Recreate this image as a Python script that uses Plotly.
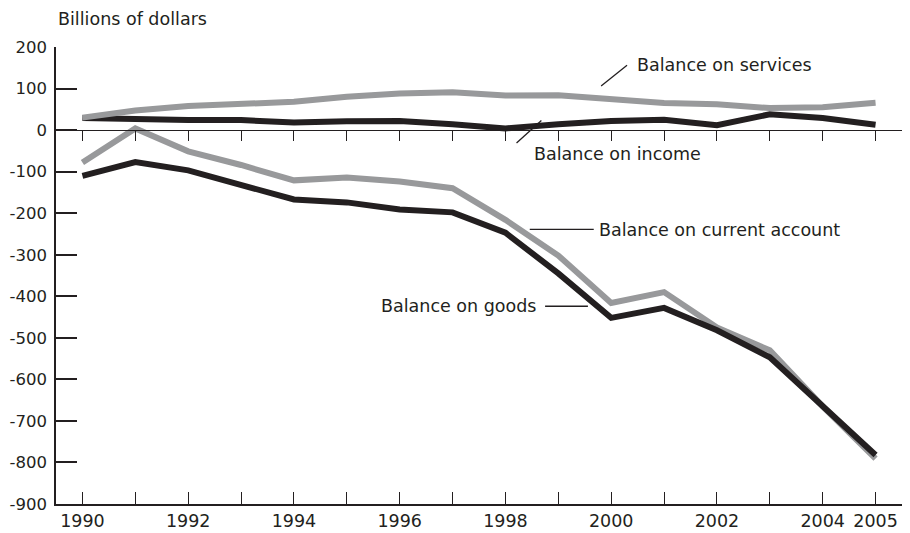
import plotly.graph_objects as go

years = list(range(1990, 2006))
services = [30, 47, 58, 63, 68, 80, 88, 91, 83, 84, 75, 65, 62, 53, 55, 66]
income = [29, 25, 24, 24, 18, 21, 22, 14, 4, 14, 22, 25, 12, 38, 29, 13]
current_account = [-78, 4, -51, -84, -121, -114, -124, -140, -216, -302, -416, -390, -475, -530, -665, -791]
goods = [-110, -77, -97, -131, -167, -174, -191, -198, -247, -345, -452, -428, -482, -547, -666, -782]

tick_years = years
tick_text = ["1990", "", "1992", "", "1994", "", "1996", "", "1998", "", "2000", "", "2002", "", "2004", "2005"]
y_ticks = list(range(-900, 201, 100))
y_tick_text = [str(v) for v in y_ticks]

BLACK = "#231f20"
GRAY = "#98999b"
FONT = "DejaVu Sans"
FS = 17.5

fig = go.Figure()
fig.add_trace(go.Scatter(x=years, y=income, mode="lines", line=dict(color=BLACK, width=6), name="Balance on income"))
fig.add_trace(go.Scatter(x=years, y=services, mode="lines", line=dict(color=GRAY, width=6), name="Balance on services"))
fig.add_trace(go.Scatter(x=years, y=current_account, mode="lines", line=dict(color=GRAY, width=6), name="Balance on current account"))
fig.add_trace(go.Scatter(x=years, y=goods, mode="lines", line=dict(color=BLACK, width=6), name="Balance on goods"))

labels = [
    dict(text="Balance on services", x=2000.47, y=156, xanchor="left", line=((1999.81, 106), (2000.30, 156))),
    dict(text="Balance on income", x=1998.52, y=-58, xanchor="left", line=((1998.21, -31), (1998.68, 23))),
    dict(text="Balance on current account", x=1999.75, y=-240, xanchor="left", line=((1998.46, -239), (1999.67, -239))),
    dict(text="Balance on goods", x=1998.59, y=-424, xanchor="right", line=((1998.75, -424), (1999.56, -424))),
]
for lab in labels:
    fig.add_annotation(x=lab["x"], y=lab["y"], text=lab["text"], xanchor=lab["xanchor"], yanchor="middle",
                       showarrow=False, font=dict(family=FONT, size=FS, color=BLACK), borderpad=0)
    (x0, y0), (x1, y1) = lab["line"]
    fig.add_shape(type="line", x0=x0, y0=y0, x1=x1, y1=y1, line=dict(color=BLACK, width=1.3))

fig.add_annotation(x=0, y=1, xref="paper", yref="paper", text="Billions of dollars", showarrow=False,
                   xanchor="left", yanchor="top", xshift=1, yshift=39, borderpad=0,
                   font=dict(family=FONT, size=17.5, color=BLACK))

# the page places the figure 8px from the top-left corner of the window
fig.update_layout(
    width=902, height=525,
    margin=dict(l=48, r=8, t=39, b=29),
    paper_bgcolor="white", plot_bgcolor="white",
    showlegend=False,
    font=dict(family=FONT, color=BLACK),
    xaxis=dict(range=[1989.5, 2005.5], tickvals=tick_years, ticktext=tick_text,
               ticks="inside", ticklen=12, tickwidth=1.3, tickcolor=BLACK,
               showline=True, linecolor=BLACK, linewidth=1.5, showgrid=False, zeroline=False,
               automargin=False,
               tickfont=dict(family=FONT, size=FS, color=BLACK)),
    xaxis2=dict(range=[1989.5, 2005.5], tickvals=tick_years, overlaying="x", anchor="free",
                position=9 / 11, side="bottom", ticks="outside", ticklen=10, tickwidth=1.3, tickcolor=BLACK,
                showline=True, linecolor=BLACK, linewidth=1.3, showgrid=False, zeroline=False,
                showticklabels=False, automargin=False),
    yaxis=dict(range=[-900, 200], tickvals=y_ticks, ticktext=y_tick_text,
               ticks="inside", ticklen=21, tickwidth=1.5, tickcolor=BLACK,
               showline=True, linecolor=BLACK, linewidth=1.5, showgrid=False, zeroline=False,
               ticklabelstandoff=4, automargin=False,
               tickfont=dict(family=FONT, size=16.5, color=BLACK)),
)
fig.add_trace(go.Scatter(x=[None], y=[None], xaxis="x2", showlegend=False, hoverinfo="skip"))

fig.write_html("out.html")
